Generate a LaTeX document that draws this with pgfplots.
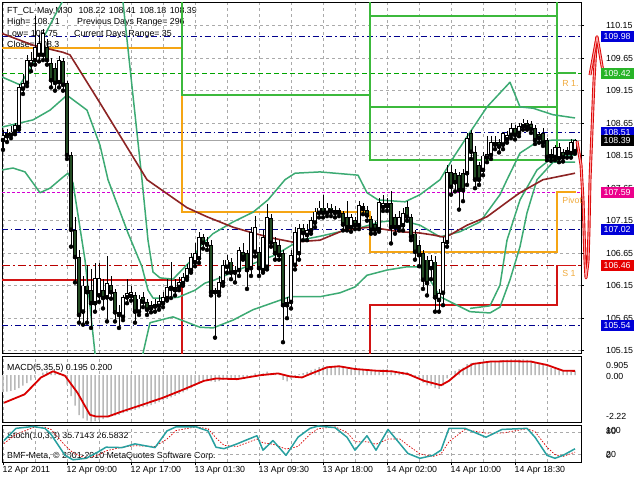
\documentclass[border=0pt]{standalone}
\usepackage{pgfplots}
\usepackage{pgfplotstable}
\pgfplotsset{compat=1.18}
\usepackage{fontspec}
\setmainfont{Liberation Sans}
\definecolor{gridgray}{RGB}{170,170,170}
\definecolor{bear}{RGB}{35,75,35}
\definecolor{bbgreen}{RGB}{60,170,115}
\definecolor{maroonma}{RGB}{140,35,35}
\definecolor{pivorange}{RGB}{245,165,20}
\definecolor{pivgreen}{RGB}{60,185,60}
\definecolor{pivred}{RGB}{210,20,20}
\definecolor{navylev}{RGB}{0,0,140}
\definecolor{boxblue}{RGB}{0,0,215}
\definecolor{boxgreen}{RGB}{40,180,40}
\definecolor{magentalev}{RGB}{210,0,210}
\definecolor{redlev}{RGB}{185,0,0}
\definecolor{greenlev}{RGB}{0,165,0}
\definecolor{histgray}{RGB}{185,185,185}
\definecolor{stochmain}{RGB}{40,160,160}
\definecolor{labelorange}{RGB}{240,170,60}
\begin{document}
\pgfplotstableread{
k o h l c
0 108.39 108.55 108.24 108.47
1 108.45 108.56 108.36 108.50
2 108.47 108.60 108.42 108.52
3 108.52 108.66 108.48 108.62
4 108.59 109.25 108.55 109.20
5 109.18 109.40 109.10 109.27
6 109.27 109.70 109.22 109.62
7 109.55 109.75 109.45 109.62
8 109.62 110.30 109.55 109.82
9 109.70 110.00 109.60 109.88
10 109.70 110.10 109.62 110.04
14 109.28 109.68 109.20 109.62
20 105.75 106.30 105.55 106.15
23 105.88 106.50 105.75 106.27
24 106.00 106.50 105.90 106.27
26 105.97 106.60 105.60 106.19
30 105.67 106.00 105.62 105.97
31 105.97 106.25 105.88 106.04
32 105.99 106.15 105.92 106.05
34 105.75 106.00 105.70 105.95
37 105.80 105.92 105.74 105.85
38 105.83 105.95 105.75 105.87
39 105.84 106.00 105.78 105.91
40 105.88 106.05 105.82 105.98
41 105.96 106.25 105.92 106.13
42 106.10 106.52 105.96 106.14
43 106.08 106.25 106.00 106.13
44 106.13 106.28 106.08 106.21
45 106.19 106.35 106.15 106.28
46 106.28 106.48 106.24 106.42
47 106.39 106.65 106.35 106.59
48 106.51 106.80 106.45 106.65
49 106.57 106.98 106.50 106.90
51 106.78 106.90 106.70 106.82
53 106.05 106.12 105.35 106.09
54 106.05 106.30 106.00 106.21
55 106.20 106.55 106.15 106.47
56 106.44 106.62 106.35 106.55
58 106.35 106.45 106.20 106.39
59 106.39 106.75 106.30 106.70
62 106.42 107.05 106.30 106.98
63 106.67 107.22 106.60 107.05
65 106.39 107.00 106.35 106.90
66 106.44 107.40 106.40 107.21
72 105.90 106.70 105.80 106.62
73 106.47 107.05 106.40 106.98
74 106.65 107.10 106.55 107.03
76 106.93 107.10 106.85 107.01
77 107.00 107.20 106.95 107.16
78 107.12 107.35 107.05 107.29
79 107.27 107.45 107.20 107.35
81 107.27 107.42 107.22 107.35
84 107.27 107.35 107.22 107.31
87 107.05 107.25 106.98 107.20
89 107.08 107.45 107.02 107.39
90 107.33 107.42 107.25 107.37
94 107.02 107.50 106.98 107.44
95 107.36 107.55 107.30 107.42
96 107.37 107.50 107.30 107.42
99 107.05 107.30 107.00 107.20
100 107.08 107.35 107.00 107.27
107 106.42 106.62 106.25 106.54
109 105.93 106.10 105.75 106.04
110 106.04 106.90 105.85 106.82
111 106.82 108.00 106.75 107.90
116 107.88 108.50 107.70 108.42
120 107.93 108.20 107.85 108.15
121 108.12 108.45 108.05 108.18
122 108.16 108.45 108.10 108.36
123 108.32 108.45 108.25 108.36
125 108.32 108.52 108.25 108.50
126 108.40 108.53 108.35 108.47
127 108.47 108.65 108.42 108.58
129 108.50 108.66 108.45 108.61
130 108.60 108.71 108.55 108.66
138 108.13 108.32 108.08 108.28
139 108.11 108.35 108.05 108.28
141 108.19 108.28 108.12 108.23
142 108.19 108.40 108.12 108.36
143 108.22 108.41 108.18 108.39
}\bull
\pgfplotstableread{
k o h l c
11 109.82 109.95 109.55 109.62
12 109.57 109.65 109.20 109.31
13 109.50 109.58 109.15 109.27
15 109.60 109.65 109.15 109.24
16 109.27 109.30 108.10 108.16
17 108.16 108.20 106.75 107.01
18 107.01 107.20 106.20 106.59
19 106.59 106.70 105.58 105.70
21 106.15 106.47 105.58 106.05
22 106.08 106.40 105.50 105.88
25 106.08 106.25 105.80 105.96
27 106.16 106.30 105.95 106.05
28 106.05 106.10 105.60 105.74
29 105.74 105.85 105.50 105.70
33 106.00 106.05 105.58 105.75
35 105.97 106.05 105.82 105.90
36 105.90 105.95 105.70 105.78
50 106.90 106.95 106.72 106.81
52 106.78 106.85 106.00 106.05
57 106.52 106.58 106.25 106.35
60 106.67 106.80 106.55 106.59
61 106.65 106.70 106.10 106.39
64 106.67 106.75 106.30 106.42
67 107.19 107.25 106.75 106.81
68 106.82 106.90 106.55 106.65
69 106.78 106.85 106.55 106.62
70 106.65 106.70 105.28 105.85
71 105.90 105.98 105.65 105.85
75 107.04 107.10 106.85 106.96
80 107.35 107.55 107.20 107.27
82 107.35 107.40 107.22 107.29
83 107.31 107.38 107.20 107.27
85 107.27 107.30 107.00 107.09
86 107.20 107.45 107.00 107.05
88 107.16 107.20 107.02 107.08
91 107.31 107.38 107.15 107.23
92 107.18 107.22 106.95 107.01
93 107.10 107.15 106.95 107.01
97 107.42 107.60 106.80 107.05
98 107.20 107.25 106.95 107.05
101 107.36 107.45 107.15 107.21
102 107.20 107.25 106.85 106.90
103 106.95 107.00 106.55 106.67
104 106.78 106.85 106.45 106.62
105 106.65 106.70 106.10 106.24
106 106.55 106.60 106.00 106.19
108 106.52 106.60 105.75 105.97
112 107.90 108.00 107.55 107.67
113 107.88 107.95 107.60 107.74
114 107.85 107.90 107.32 107.62
115 107.88 107.95 107.45 107.62
117 108.50 108.55 108.10 108.21
118 108.21 108.30 107.65 107.78
119 108.00 108.05 107.70 107.78
124 108.36 108.40 108.20 108.29
128 108.58 108.62 108.40 108.47
131 108.65 108.70 108.55 108.59
132 108.63 108.68 108.50 108.56
133 108.58 108.62 108.33 108.39
134 108.48 108.52 108.35 108.42
135 108.50 108.58 108.30 108.35
136 108.39 108.42 108.08 108.13
137 108.17 108.25 108.07 108.13
140 108.21 108.25 108.06 108.12
}\bear
\begin{tikzpicture}[font=\fontsize{8.8}{10}\selectfont]
\path[use as bounding box] (0,0) rectangle (640pt,-480pt);
\node[anchor=base west, inner sep=0pt] at (7pt,-13pt) {FT\_CL-May,M30\hspace{6pt}108.22\hspace{3.5pt}108.41\hspace{3.5pt}108.18\hspace{3.5pt}108.39};
\node[anchor=base west, inner sep=0pt] at (7pt,-24.5pt) {High= 108.71};
\node[anchor=base west, inner sep=0pt] at (77pt,-24.5pt) {Previous Days Range= 296};
\node[anchor=base west, inner sep=0pt] at (7pt,-36pt) {Low= 105.75};
\node[anchor=base west, inner sep=0pt] at (74pt,-36pt) {Current Days Range= 35};
\node[anchor=base west, inner sep=0pt] at (7pt,-47.5pt) {Close= 108.3};
\node[anchor=base west, inner sep=0pt] at (7pt,-370pt) {MACD(5,35,5) 0.195 0.200};
\node[anchor=base west, inner sep=0pt] at (7pt,-438pt) {Stoch(10,3,3) 35.7143 26.5832};
\node[anchor=base west, inner sep=0pt] at (7pt,-458pt) {BMF-Meta, © 2001-2010 MetaQuotes Software Corp.};

\begin{axis}[
  name=main, at={(2pt,-2pt)}, anchor=north west, scale only axis,
  x=4pt, y=65pt, xmin=-0.25, xmax=144.5, ymin=105.114, ymax=110.514,
  axis line style={black, line width=0.8pt},
  xtick={0,16,...,128}, minor xtick={8,24,...,136}, xticklabels={},
  xtick style={draw=none}, minor tick length=0pt,
  xmajorgrids, xminorgrids, ymajorgrids,
  major grid style={gridgray, dash pattern=on 3pt off 3pt, line width=0.6pt},
  minor grid style={gridgray, dash pattern=on 3pt off 3pt, line width=0.6pt},
  ytick={105.15,105.65,106.15,106.65,107.15,107.65,108.15,108.65,109.15,109.65,110.15},
  ytick pos=right, yticklabel pos=right, ytick align=outside, major tick length=3pt,
  ytick style={black, line width=0.6pt},
  /pgf/number format/assume math mode=true,
  yticklabel style={anchor=west, xshift=22pt, inner sep=0pt, /pgf/number format/.cd, fixed, fixed zerofill, precision=2},
]
\addplot[navylev, line width=0.8pt, dash pattern=on 6pt off 3pt on 1.5pt off 3pt] coordinates {(-0.25,109.98) (144.5,109.98)};
\addplot[navylev, line width=0.8pt, dash pattern=on 6pt off 3pt on 1.5pt off 3pt] coordinates {(-0.25,108.51) (144.5,108.51)};
\addplot[navylev, line width=0.8pt, dash pattern=on 6pt off 3pt on 1.5pt off 3pt] coordinates {(-0.25,107.02) (144.5,107.02)};
\addplot[navylev, line width=0.8pt, dash pattern=on 6pt off 3pt on 1.5pt off 3pt] coordinates {(-0.25,105.54) (144.5,105.54)};
\addplot[greenlev, line width=0.8pt, dash pattern=on 5pt off 3pt] coordinates {(-0.25,109.42) (144.5,109.42)};
\addplot[magentalev, line width=0.8pt, dash pattern=on 3pt off 2pt] coordinates {(-0.25,107.59) (144.5,107.59)};
\addplot[redlev, line width=0.8pt, dash pattern=on 8pt off 3pt on 2pt off 3pt] coordinates {(-0.25,106.46) (144.5,106.46)};
\addplot[gray!70, line width=0.7pt] coordinates {(-0.25,108.39) (144.5,108.39)};
% pivot step lines
\addplot[pivorange, line width=1.6pt] coordinates {(-0.25,109.81) (44.75,109.81) (44.75,107.28) (91.75,107.28) (91.75,106.67) (138.5,106.67) (138.5,107.59) (143.25,107.59)};
\addplot[pivgreen, line width=1.6pt] coordinates {(44.75,110.6) (44.75,109.08) (91.75,109.08) (91.75,108.08) (138.5,108.08) (138.5,109.42) (143.25,109.42)};
\addplot[pivgreen, line width=1.6pt] coordinates {(91.75,110.6) (91.75,108.90) (138.5,108.90) (138.5,110.6)};
\addplot[pivgreen, line width=1.6pt] coordinates {(91.75,110.6) (91.75,110.30) (138.5,110.30) (138.5,110.6)};
\addplot[pivred, line width=1.6pt] coordinates {(-0.25,106.24) (44.75,106.24) (44.75,105.0)};
\addplot[pivred, line width=1.6pt] coordinates {(91.75,105.0) (91.75,105.85) (138.5,105.85) (138.5,106.46) (143.25,106.46)};
\node[anchor=base west, inner sep=0pt, text=labelorange] at (axis cs:139.8,109.21) {R 1.};
\node[anchor=base west, inner sep=0pt, text=labelorange] at (axis cs:139.8,107.41) {Pivot Point};
\node[anchor=base west, inner sep=0pt, text=labelorange] at (axis cs:139.8,106.29) {S 1};
% Bollinger bands
\addplot[bbgreen, line width=1.5pt, line join=round] coordinates {
(-0.25,108.59) (7.5,108.70) (11.75,108.85) (16,109.08) (21,108.85) (24.25,108.31) (26.25,107.78) (31.25,106.96) (34.75,106.44) (36.25,106.08) (37.5,105.96) (40.5,105.96) (43.75,105.97) (48,106.08) (50.5,106.19) (53,106.24) (58.75,106.39) (64.75,106.545) (68,106.62) (74.25,106.85) (79.25,106.91) (84.25,106.98) (89.25,107.04) (94.25,107.13) (99.25,107.16) (104.25,107.08) (109.25,106.90) (114.25,106.98) (119.25,107.13) (124.25,107.55) (126,107.78) (129.25,108.19) (133.5,108.36) (137.5,108.39) (143,108.39)};
\addplot[bbgreen, line width=1.5pt, line join=round] coordinates {
(-0.25,109.36) (4.25,109.24) (8,109.62) (10.5,110.01) (13,110.31) (14.75,110.51) (15.75,110.86)};
\addplot[bbgreen, line width=1.5pt, line join=round] coordinates {
(29.25,111.01) (30,110.51) (34.75,107.78) (36.25,106.85) (37.5,106.36) (39.25,106.27) (42.5,106.25) (46.75,106.52) (49.25,106.75) (52.5,106.95) (57.5,107.13) (62.5,107.28) (66.25,107.47) (70.5,107.78) (73,107.88) (79.25,107.90) (88.75,107.85) (91,107.58) (93.75,107.47) (100.5,107.44) (104.25,107.55) (109.25,107.78) (113,108.16) (116,108.44) (121,108.90) (126.75,109.28) (129.25,108.90) (132.5,108.88) (137.5,108.78) (143,108.73)};
\addplot[bbgreen, line width=1.5pt, line join=round] coordinates {
(-0.25,107.93) (2.5,107.96) (5.5,107.90) (9.25,107.58) (11.75,107.65) (15,107.82) (16.25,107.88) (17.5,107.73) (20.5,106.545) (23,105.11) (23.75,104.70)};
\addplot[bbgreen, line width=1.5pt, line join=round] coordinates {
(34.5,104.70) (35,105.11) (36.75,105.58) (42.5,105.67) (49.25,105.51) (52.5,105.50) (57.5,105.62) (62.5,105.78) (71.75,105.98) (79.25,105.98) (84.25,106.04) (88,106.13) (91,106.31) (96,106.39) (101,106.44) (104.25,106.44) (106.75,106.24) (109.25,105.98) (112.5,105.88) (116.75,105.75) (121.75,105.73) (124.25,105.82) (126.75,106.24) (129.25,106.75) (131,107.27) (133.5,107.78) (137.5,108.05) (143,108.05)};
\addplot[bbgreen, line width=1.5pt, line join=round] coordinates {
(116.75,105.80) (121.75,105.84) (124.25,106.16) (126,106.85) (129.25,107.47) (133.5,107.93) (137.5,108.13) (143,108.16)};
% moving average
\addplot[maroonma, line width=1.6pt, line join=round] coordinates {
(-0.25,110.03) (7.5,109.85) (15,109.74) (16.75,109.70) (24.25,108.96) (36,107.78) (46,107.35) (51,107.21) (57.5,107.05) (62.5,106.96) (67.5,106.88) (72.5,106.82) (79.25,106.85) (85.5,107.01) (91.75,107.05) (96,107.01) (99.25,106.98) (104.25,106.96) (107.5,106.93) (110,106.90) (111.75,106.93) (116,107.08) (121,107.21) (126.75,107.47) (129.25,107.58) (135,107.78) (143,107.88)};
% candles
\addplot[only marks, mark=none, error bars/.cd, y dir=plus, y explicit, error mark=none, error bar style={black, line width=0.8pt}] table[x=k, y=l, y error expr=\thisrow{h}-\thisrow{l}] {\bull};
\addplot[only marks, mark=none, error bars/.cd, y dir=plus, y explicit, error mark=none, error bar style={black, line width=0.8pt}] table[x=k, y=l, y error expr=\thisrow{h}-\thisrow{l}] {\bear};
\addplot[only marks, mark=none, error bars/.cd, y dir=plus, y explicit, error mark=none, error bar style={black, line width=3.2pt}] table[x=k, y=o, y error expr=\thisrow{c}-\thisrow{o}] {\bull};
\addplot[only marks, mark=none, error bars/.cd, y dir=plus, y explicit, error mark=none, error bar style={white, line width=1.4pt, shorten <=0.8pt, shorten >=0.8pt}] table[x=k, y=o, y error expr=\thisrow{c}-\thisrow{o}] {\bull};
\addplot[only marks, mark=none, error bars/.cd, y dir=plus, y explicit, error mark=none, error bar style={black, line width=3.2pt}] table[x=k, y=c, y error expr=\thisrow{o}-\thisrow{c}] {\bear};
\addplot[only marks, mark=none, error bars/.cd, y dir=plus, y explicit, error mark=none, error bar style={bear, line width=1.4pt, shorten <=0.8pt, shorten >=0.8pt}] table[x=k, y=c, y error expr=\thisrow{o}-\thisrow{c}] {\bear};
\coordinate (L1) at (axis cs:144.5,109.98);
\coordinate (L2) at (axis cs:144.5,109.42);
\coordinate (L3) at (axis cs:144.5,108.51);
\coordinate (L4) at (axis cs:144.5,108.39);
\coordinate (L5) at (axis cs:144.5,107.59);
\coordinate (L6) at (axis cs:144.5,107.02);
\coordinate (L7) at (axis cs:144.5,106.46);
\coordinate (L8) at (axis cs:144.5,105.54);
\end{axis}
% overlay axis for the red arrow object (not clipped)
\begin{axis}[
  at={(2pt,-2pt)}, anchor=north west, scale only axis, hide axis, clip=false,
  x=4pt, y=65pt, xmin=-0.25, xmax=144.5, ymin=105.114, ymax=110.514,
]
\addplot[red!85!black, line width=0.9pt, double=red!35, double distance=1.1pt, line join=round] coordinates {(143.5,108.37) (144.5,108.01) (145,107.47) (145.25,107.01) (145.5,106.52) (145.75,106.27) (146.25,106.52) (146.5,107.01) (146.75,107.78) (147.25,108.55) (147.75,109.31) (148.25,109.85) (148.5,109.98)};
\addplot[red!85!black, line width=0.9pt, double=red!35, double distance=1.1pt, line join=round] coordinates {(146.75,109.39) (148.5,109.98) (150,109.44)};
\end{axis}

\begin{axis}[
  name=macd, at={(2pt,-356pt)}, anchor=north west, scale only axis,
  x=4pt, height=66pt, xmin=-0.25, xmax=144.5, ymin=-2.22, ymax=0.905,
  axis line style={black, line width=0.8pt},
  xtick={0,16,...,128}, minor xtick={8,24,...,136}, xticklabels={},
  xtick style={draw=none}, minor tick length=0pt, ytick=\empty,
  xmajorgrids, xminorgrids,
  major grid style={gridgray, dash pattern=on 3pt off 3pt, line width=0.6pt},
  minor grid style={gridgray, dash pattern=on 3pt off 3pt, line width=0.6pt},
]
\addplot[ybar, bar width=1.5pt, fill=histgray, draw=none] coordinates {
(0,-0.80) (1,-0.78) (2,-0.75) (3,-0.70) (4,-0.62) (5,-0.50) (6,-0.38) (7,-0.25) (8,-0.12) (9,0.01) (10,0.12) (11,0.18) (12,0.15) (13,0.10) (14,0.05) (15,-0.05) (16,-0.45) (17,-1.00) (18,-1.45) (19,-1.90) (20,-2.05) (21,-2.15) (22,-2.20) (23,-2.18) (24,-2.12) (25,-2.08) (26,-2.00) (27,-1.95) (28,-1.92) (29,-1.88) (30,-1.80) (31,-1.74) (32,-1.68) (33,-1.65) (34,-1.58) (35,-1.52) (36,-1.48) (37,-1.42) (38,-1.35) (39,-1.28) (40,-1.20) (41,-1.12) (42,-1.05) (43,-0.98) (44,-0.90) (45,-0.82) (46,-0.72) (47,-0.62) (48,-0.52) (49,-0.40) (50,-0.32) (51,-0.25) (52,-0.30) (53,-0.32) (54,-0.28) (55,-0.22) (56,-0.18) (57,-0.20) (58,-0.18) (59,-0.12) (60,-0.10) (61,-0.12) (62,-0.02) (63,0.08) (64,0.04) (65,0.08) (66,0.16) (67,0.10) (68,0.05) (69,0.01) (70,-0.22) (71,-0.30) (72,-0.18) (73,-0.05) (74,0.05) (75,0.10) (76,0.15) (77,0.22) (78,0.30) (79,0.38) (80,0.40) (81,0.42) (82,0.43) (83,0.42) (84,0.40) (85,0.36) (86,0.32) (87,0.30) (88,0.27) (89,0.28) (90,0.29) (91,0.26) (92,0.22) (93,0.19) (94,0.24) (95,0.27) (96,0.29) (97,0.22) (98,0.17) (99,0.16) (100,0.15) (101,0.14) (102,0.06) (103,-0.08) (104,-0.18) (105,-0.35) (106,-0.48) (107,-0.50) (108,-0.62) (109,-0.65) (110,-0.50) (111,-0.15) (112,0.05) (113,0.20) (114,0.28) (115,0.35) (116,0.52) (117,0.58) (118,0.55) (119,0.55) (120,0.60) (121,0.62) (122,0.66) (123,0.68) (124,0.68) (125,0.71) (126,0.72) (127,0.74) (128,0.72) (129,0.73) (130,0.74) (131,0.72) (132,0.69) (133,0.62) (134,0.57) (135,0.50) (136,0.40) (137,0.33) (138,0.30) (139,0.27) (140,0.22) (141,0.19) (142,0.19) (143,0.195)};
\addplot[red!85!black, line width=1.8pt, line join=round] coordinates {
(0.25,-1.31) (5.4,-0.91) (9.5,-0.11) (12.5,0.18) (15.5,-0.03) (18.6,-0.83) (21.75,-1.88) (23.25,-1.96) (26.25,-1.96) (29.75,-1.72) (35,-1.39) (40,-1.07) (45.25,-0.67) (50.25,-0.27) (53.25,-0.16) (58.5,-0.19) (64.5,0.0) (68.75,0.08) (71.75,-0.06) (74.75,-0.11) (76.75,0.05) (81,0.37) (84,0.42) (88,0.29) (93.25,0.21) (97.25,0.18) (101.25,0.05) (105.25,-0.27) (109.5,-0.48) (111.5,-0.27) (114.5,0.21) (117.5,0.53) (121.75,0.64) (126.75,0.66) (132,0.64) (136,0.48) (140,0.21) (143,0.20)};
\end{axis}

\begin{axis}[
  name=stoch, at={(2pt,-425pt)}, anchor=north west, scale only axis,
  x=4pt, height=37pt, xmin=-0.25, xmax=144.5, ymin=0, ymax=100,
  axis line style={black, line width=0.8pt},
  xtick={0,16,...,128}, minor xtick={8,24,...,136},
  xticklabels={12 Apr 2011, 12 Apr 09:00, 12 Apr 17:00, 13 Apr 01:30, 13 Apr 09:30, 13 Apr 18:00, 14 Apr 02:00, 14 Apr 10:00, 14 Apr 18:30},
  xtick pos=bottom, xtick align=outside, major tick length=3pt, minor tick length=0pt,
  xtick style={black, line width=0.6pt},
  xticklabel style={anchor=north west, inner sep=0pt, xshift=-0.5pt, yshift=-1pt},
  ytick={20,80}, yticklabels={}, ytick style={draw=none},
  xmajorgrids, xminorgrids, ymajorgrids,
  major grid style={gridgray, dash pattern=on 3pt off 3pt, line width=0.6pt},
  minor grid style={gridgray, dash pattern=on 3pt off 3pt, line width=0.6pt},
]
\addplot[red!85!black, line width=0.7pt, dash pattern=on 1.5pt off 1.5pt] coordinates {
(0.25,50) (3.25,75) (7.5,93) (10.5,94) (12,88) (15.5,45) (17.5,25) (20.75,10) (23.75,18) (25.75,30) (29.75,40) (33,44) (38,42) (41,62) (43.25,85) (48.25,95) (51.25,90) (53.25,65) (55.25,45) (58.5,42) (60.5,50) (63.5,62) (65,52) (67.5,48) (70.75,35) (73.75,42) (76.75,75) (78.75,90) (83,95) (86,80) (88,55) (91,55) (93.25,48) (96.25,62) (99.25,62) (101.25,45) (104.25,22) (107.5,15) (109.5,22) (111.5,55) (115.5,88) (120.75,78) (124.75,78) (131,90) (133,82) (136,40) (138,20) (140,15) (143,26.58)};
\addplot[stochmain, line width=1.5pt, line join=round] coordinates {
(0.25,58) (3.25,91) (7.5,96) (10.5,91) (12,75) (15.5,18) (17.5,6) (20.75,10) (23.75,27) (25.75,40) (29.75,39) (33,49) (38,39) (41,84) (43.25,95) (48.25,95) (51.25,84) (53.25,40) (55.25,36) (58.5,49) (60.5,58) (63.5,71) (65,32) (67.5,58) (70.75,18) (73.75,67) (76.75,91) (78.75,97) (83,93) (86,67) (88,32) (91,71) (93.25,32) (96.25,88) (99.25,49) (101.25,23) (104.25,10) (107.5,18) (109.5,32) (111.5,91) (115.5,91) (120.75,67) (124.75,88) (131,91) (133,67) (136,18) (138,10) (140,18) (143,35.71)};
\end{axis}

\node[anchor=west, inner sep=0pt] at (606pt,-365pt) {0.905};
\node[anchor=west, inner sep=0pt] at (606pt,-376pt) {0.00};
\node[anchor=west, inner sep=0pt] at (606pt,-416pt) {-2.22};
\node[anchor=west, inner sep=0pt] at (606pt,-430pt) {100};
\node[anchor=west, inner sep=0pt] at (606pt,-431.6pt) {80};
\node[anchor=west, inner sep=0pt] at (606pt,-454.4pt) {20};
\node[anchor=west, inner sep=0pt] at (606pt,-455.5pt) {0};
\tikzset{pbox/.style={anchor=west, text=white, inner xsep=2.5pt, inner ysep=0pt, minimum height=11pt, text width=28pt, align=left}}
\node[pbox, fill=boxblue] at ([xshift=20pt]L1) {109.98};
\node[pbox, fill=boxgreen] at ([xshift=20pt]L2) {109.42};
\node[pbox, fill=boxblue] at ([xshift=20pt]L3) {108.51};
\node[pbox, fill=black] at ([xshift=20pt]L4) {108.39};
\node[pbox, fill=magenta] at ([xshift=20pt]L5) {107.59};
\node[pbox, fill=boxblue] at ([xshift=20pt]L6) {107.02};
\node[pbox, fill=red!90!black] at ([xshift=20pt]L7) {106.46};
\node[pbox, fill=boxblue] at ([xshift=20pt]L8) {105.54};
\end{tikzpicture}
\end{document}
